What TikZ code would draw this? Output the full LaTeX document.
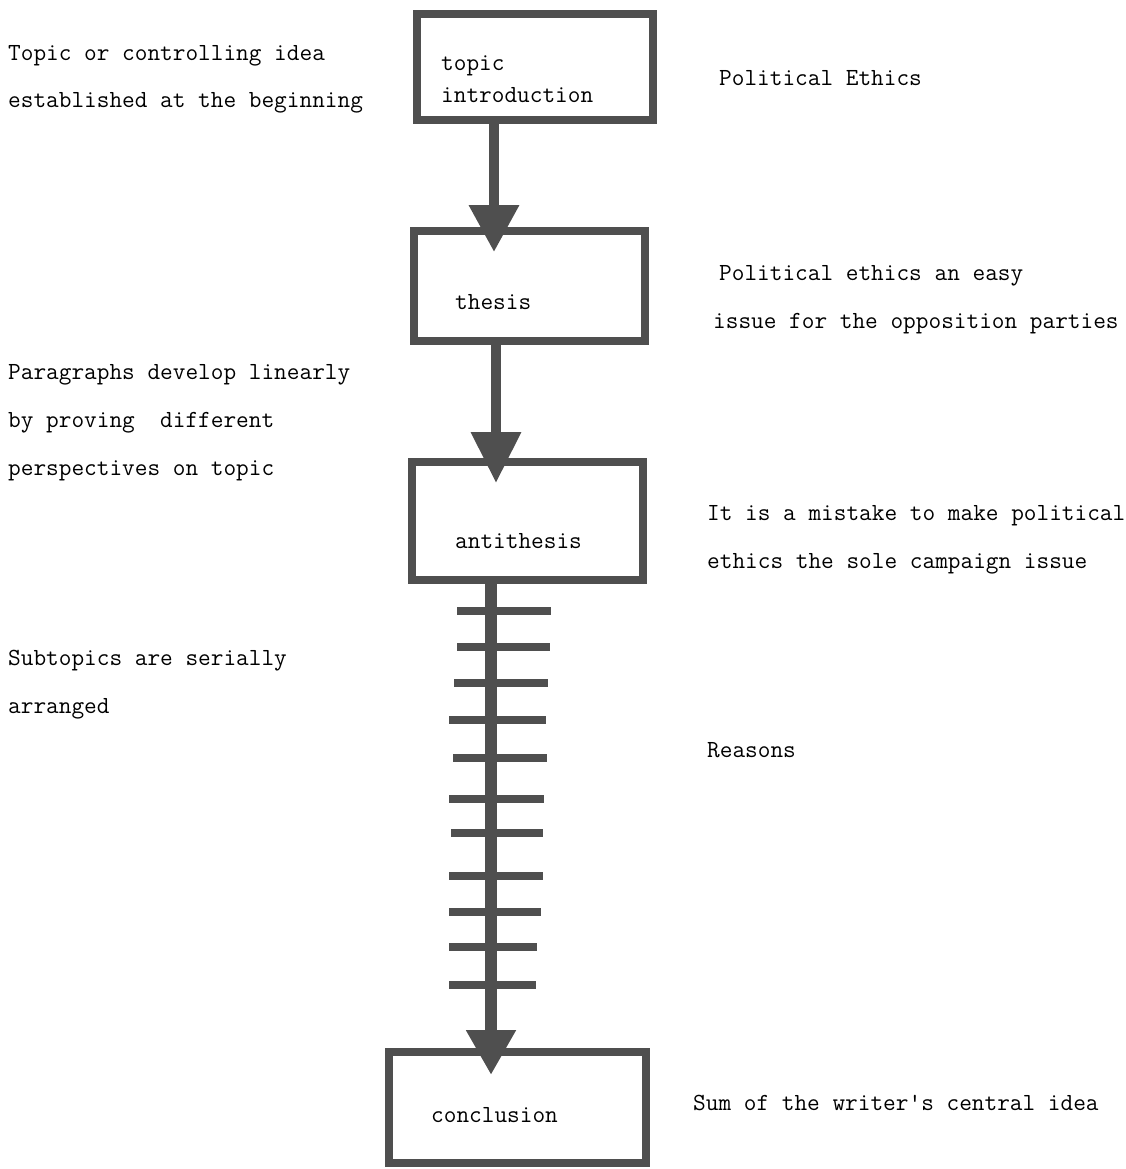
\documentclass[tikz,border=0pt]{standalone}
\usetikzlibrary{arrows.meta}
\definecolor{ink}{gray}{0.31}
\newcommand\lbfont{\fontsize{24.6}{30}\selectfont\ttfamily}
\begin{document}
\begin{tikzpicture}[x=1pt,y=-1pt,
  box/.style={draw=ink, line width=8pt, minimum width=#1, inner sep=0pt},
  lbl/.style={font=\lbfont, anchor=base west, inner sep=0pt, text=black},
  flow/.style={draw=ink, line width=10pt},
  rung/.style={draw=ink, line width=8pt}]
\useasboundingbox (0,0) rectangle (1126,1169);
% boxes
\node[box=236pt, minimum height=106pt] (b1) at (535,67) {};
\node[box=231pt, minimum height=110pt] (b2) at (529.5,286) {};
\node[box=231pt, minimum height=118pt] (b3) at (527.5,521) {};
\node[box=257pt, minimum height=111pt] (b4) at (517.5,1107.5) {};
% box texts
\node[lbl] (t1a) at (441,71) {topic};
\node[lbl] (t1b) at (441,103) {introduction};
\node[lbl] (t2) at (455,309) {thesis};
\node[lbl] (t3) at (455,548) {antithesis};
\node[lbl] (t4) at (431,1122) {conclusion};
% arrow tips
\coordinate (p1) at (494,252);
\coordinate (p2) at (496,483);
\coordinate (p3) at (491,1075);
\draw[flow, -{Triangle[length=47pt,width=48pt]}] (b1.south -| p1) -- (p1);
\draw[flow, -{Triangle[length=51pt,width=48pt]}] (b2.south -| p2) -- (p2);
\draw[flow, line width=12pt, -{Triangle[length=45pt,width=47pt]}] (b3.south -| p3) -- (p3);
% rungs
\foreach \yy/\xa/\xb in {611/457/551, 647/457/550, 683/454/548, 720/449/546,
  758/453/547, 799/449/544, 833/451/543, 876/449/543, 912/449/541,
  947/449/537, 985/449/536}
  \draw[rung] (\xa,\yy) -- (\xb,\yy);
% left notes
\node[lbl] (l1a) at (8,61) {Topic or controlling idea};
\node[lbl] (l1b) at (8,108) {established at the beginning};
\node[lbl] (l2a) at (8,379) {Paragraphs develop linearly};
\node[lbl] (l2b) at (8,427) {by proving\ \ different};
\node[lbl] (l2c) at (8,475) {perspectives on topic};
\node[lbl] (l3a) at (8,665) {Subtopics are serially};
\node[lbl] (l3b) at (8,713) {arranged};
% right notes
\node[lbl] (r1) at (719,86) {Political Ethics};
\node[lbl] (r2a) at (719,280) {Political ethics an easy};
\node[lbl] (r2b) at (713,328) {issue for the opposition parties};
\node[lbl] (r3a) at (707,520) {It is a mistake to make political};
\node[lbl] (r3b) at (707,568) {ethics the sole campaign issue};
\node[lbl] (r4) at (707,757) {Reasons};
\node[lbl] (r5) at (693,1110) {Sum of the writer\textquotesingle s central idea};
\end{tikzpicture}
\end{document}
